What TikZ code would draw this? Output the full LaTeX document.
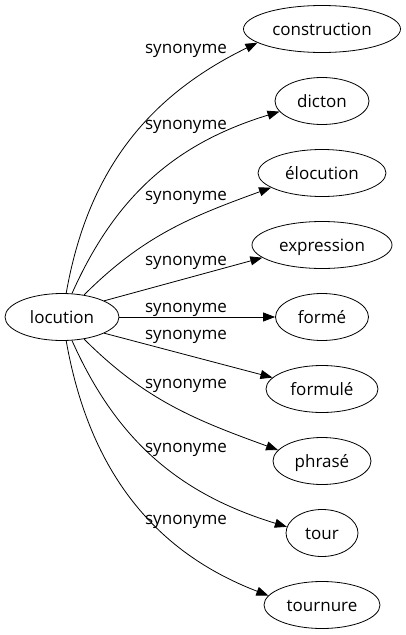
\documentclass[tikz,border=0pt]{standalone}
\usepackage{fontspec}
\setmainfont{Open Sans}
\usetikzlibrary{shapes.geometric, arrows.meta}
\tikzset{
  word/.style={ellipse, draw, line width=0.8pt, inner sep=0pt, minimum height=47pt,
    text height=12pt, text depth=0pt, font=\fontsize{17pt}{20pt}\selectfont},
  rel/.style={anchor=base, inner sep=0pt, font=\fontsize{17pt}{20pt}\selectfont},
  link/.style={line width=0.8pt, -{Triangle[length=12pt, width=9pt]}}
}
\begin{document}
\begin{tikzpicture}[x=1pt, y=1pt]
  \useasboundingbox (0,0) rectangle (406,-635);

  % Words
  \node[word, minimum width=114pt] (loc) at (62,-317) {locution};
  \node[word, minimum width=157pt] (cons) at (322,-29) {construction};
  \node[word, minimum width=94pt] (dict) at (322,-101) {dicton};
  \node[word, minimum width=128pt] (eloc) at (322,-173) {élocution};
  \node[word, minimum width=140pt] (expr) at (322,-245) {expression};
  \node[word, minimum width=93pt] (forme) at (322,-317) {formé};
  \node[word, minimum width=112pt] (formu) at (322,-389) {formulé};
  \node[word, minimum width=98pt] (phra) at (322,-461) {phrasé};
  \node[word, minimum width=72pt] (tour) at (322,-533) {tour};
  \node[word, minimum width=116pt] (tourn) at (322,-605) {tournure};

  % Edges
  \draw[link] (loc.80) to[out=80, in=206] (cons.192);
  \draw[link] (loc.67) to[out=66, in=197] (dict.194);
  \draw[link] (loc.45) to[out=45, in=200] (eloc.196);
  \draw[link] (loc.21) -- (expr.192);
  \draw[link] (loc.0) -- (forme.180);
  \draw[link] (loc.-21) -- (formu.167);
  \draw[link] (loc.-45) to[out=-45, in=160] (phra.166);
  \draw[link] (loc.-67) to[out=-66, in=163] (tour.170);
  \draw[link] (loc.-80) to[out=-80, in=159] (tourn.170);

  % Labels
  \node[rel] (s1) at (186,-53) {synonyme};
  \node[rel] (s2) at (186,-129) {synonyme};
  \node[rel] (s3) at (186,-200) {synonyme};
  \node[rel] (s4) at (186,-265) {synonyme};
  \node[rel] (s5) at (186,-312) {synonyme};
  \node[rel] (s6) at (186,-339) {synonyme};
  \node[rel] (s7) at (186,-388) {synonyme};
  \node[rel] (s8) at (186,-452) {synonyme};
  \node[rel] (s9) at (186,-524) {synonyme};
\end{tikzpicture}
\end{document}
